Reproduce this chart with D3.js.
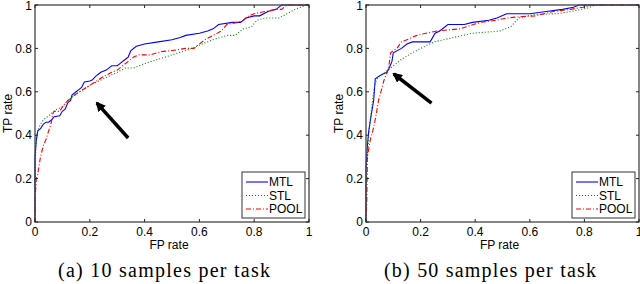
<!DOCTYPE html>
<html>
<head>
<meta charset="utf-8">
<script src="https://cdn.jsdelivr.net/npm/d3@7"></script>
<style>
  html, body { margin: 0; padding: 0; background: #fff; }
  svg { display: block; }
  .tick-label { font-family: "Liberation Sans", Arial, sans-serif; font-size: 12px; fill: #000; }
  .caption { font-family: "Liberation Serif", "Times New Roman", serif; font-size: 20px; fill: #000; }
</style>
</head>
<body>
<svg id="chart" width="640" height="284"></svg>
<script>
// ROC curves: [FP rate, TP rate]
const mtl10 = [[0,0],[0,0.3],[0.005,0.38],[0.01,0.42],[0.02,0.43],[0.03,0.45],[0.04,0.46],[0.05,0.46],[0.06,0.47],[0.07,0.485],[0.09,0.49],[0.1,0.51],[0.11,0.52],[0.12,0.55],[0.13,0.56],[0.135,0.585],[0.15,0.6],[0.16,0.61],[0.17,0.62],[0.18,0.645],[0.2,0.65],[0.21,0.655],[0.22,0.67],[0.24,0.69],[0.26,0.7],[0.27,0.71],[0.28,0.72],[0.3,0.72],[0.31,0.73],[0.33,0.75],[0.34,0.76],[0.35,0.79],[0.37,0.81],[0.4,0.82],[0.45,0.83],[0.5,0.84],[0.53,0.85],[0.55,0.86],[0.6,0.87],[0.63,0.88],[0.65,0.89],[0.67,0.91],[0.72,0.92],[0.75,0.92],[0.77,0.94],[0.8,0.95],[0.82,0.95],[0.85,0.97],[0.88,0.98],[0.9,1],[1,1]];
const stl10 = [[0,0],[0,0.2],[0.003,0.35],[0.01,0.42],[0.02,0.45],[0.03,0.47],[0.05,0.49],[0.08,0.52],[0.1,0.53],[0.12,0.56],[0.15,0.59],[0.2,0.63],[0.25,0.66],[0.3,0.69],[0.33,0.71],[0.36,0.71],[0.4,0.73],[0.45,0.75],[0.5,0.77],[0.55,0.79],[0.6,0.815],[0.65,0.84],[0.7,0.86],[0.73,0.86],[0.76,0.89],[0.79,0.9],[0.81,0.93],[0.84,0.94],[0.89,0.94],[0.92,0.96],[0.95,0.98],[0.99,1],[1,1]];
const pool10 = [[0,0],[0,0.1],[0.005,0.2],[0.01,0.22],[0.02,0.3],[0.03,0.35],[0.04,0.38],[0.05,0.42],[0.06,0.46],[0.065,0.5],[0.07,0.51],[0.09,0.51],[0.1,0.53],[0.12,0.56],[0.15,0.59],[0.2,0.63],[0.25,0.67],[0.28,0.69],[0.3,0.7],[0.32,0.72],[0.34,0.74],[0.36,0.76],[0.38,0.77],[0.42,0.77],[0.46,0.785],[0.5,0.79],[0.55,0.8],[0.58,0.8],[0.6,0.82],[0.62,0.84],[0.65,0.86],[0.68,0.88],[0.7,0.91],[0.74,0.92],[0.76,0.93],[0.78,0.95],[0.8,0.96],[0.84,0.97],[0.88,0.98],[0.9,0.98],[0.92,1],[1,1]];

const mtl50 = [[0,0],[0,0.25],[0.005,0.35],[0.01,0.42],[0.02,0.5],[0.028,0.56],[0.034,0.66],[0.045,0.67],[0.058,0.68],[0.077,0.69],[0.085,0.71],[0.095,0.74],[0.1,0.78],[0.13,0.8],[0.15,0.82],[0.17,0.83],[0.235,0.83],[0.253,0.87],[0.27,0.88],[0.3,0.91],[0.36,0.91],[0.39,0.92],[0.45,0.93],[0.48,0.94],[0.515,0.96],[0.6,0.96],[0.66,0.97],[0.72,0.98],[0.76,0.99],[0.78,1],[1,1]];
const stl50 = [[0,0],[0,0.15],[0.005,0.3],[0.01,0.4],[0.02,0.52],[0.03,0.62],[0.04,0.66],[0.06,0.68],[0.08,0.7],[0.1,0.72],[0.13,0.75],[0.17,0.78],[0.2,0.8],[0.25,0.83],[0.32,0.85],[0.39,0.87],[0.49,0.88],[0.53,0.9],[0.56,0.94],[0.61,0.955],[0.7,0.96],[0.75,0.97],[0.81,0.985],[0.84,1],[1,1]];
const pool50 = [[0,0],[0.003,0.1],[0.005,0.3],[0.016,0.38],[0.025,0.42],[0.035,0.48],[0.046,0.56],[0.058,0.615],[0.065,0.65],[0.077,0.69],[0.085,0.73],[0.09,0.78],[0.113,0.8],[0.13,0.83],[0.15,0.84],[0.186,0.86],[0.22,0.87],[0.26,0.88],[0.3,0.885],[0.344,0.89],[0.393,0.91],[0.42,0.92],[0.478,0.93],[0.515,0.94],[0.563,0.946],[0.62,0.95],[0.685,0.97],[0.75,0.98],[0.795,0.99],[0.83,1],[1,1]];

const ticks = [0, 0.2, 0.4, 0.6, 0.8, 1];
const tickLabels = ["0", "0.2", "0.4", "0.6", "0.8", "1"];
const seriesNames = ["MTL", "STL", "POOL"];
const captions = ["(a) 10 samples per task", "(b) 50 samples per task"];
// arrow [tail, tip] in data units
const arrows = [[[0.34, 0.387], [0.226, 0.548]], [[0.24, 0.548], [0.102, 0.682]]];

const styles = [
  { color: "#0000ff", dash: null },
  { color: "#008000", dash: "1,2" },
  { color: "#ff0000", dash: "5,2,1,2" },
];

const svg = d3.select("#chart");
svg.append("defs").append("marker")
  .attr("id", "head")
  .attr("viewBox", "0 0 10 10")
  .attr("refX", 8).attr("refY", 5)
  .attr("markerWidth", 2.8).attr("markerHeight", 2.8)
  .attr("orient", "auto")
  .append("path").attr("d", "M0,0 L10,5 L0,10 Z").attr("fill", "#000");

const panels = [
  { left: 35, right: 309, series: [mtl10, stl10, pool10], capX: 164 },
  { left: 366, right: 639, series: [mtl50, stl50, pool50], capX: 490 },
];
const plotTop = 5, plotBottom = 222;

panels.forEach((p, i) => {
  const x = d3.scaleLinear().domain([0, 1]).range([p.left, p.right]);
  const y = d3.scaleLinear().domain([0, 1]).range([plotBottom, plotTop]);
  const g = svg.append("g");

  const line = d3.line().x(d => x(d[0])).y(d => y(d[1]));
  p.series.forEach((s, k) => {
    g.append("path")
      .attr("d", line(s))
      .attr("fill", "none")
      .attr("stroke", styles[k].color)
      .attr("stroke-width", 1.1)
      .attr("stroke-dasharray", styles[k].dash);
  });

  // box with inward ticks on all sides
  g.append("rect")
    .attr("x", p.left).attr("y", plotTop)
    .attr("width", p.right - p.left).attr("height", plotBottom - plotTop)
    .attr("fill", "none").attr("stroke", "#444").attr("stroke-width", 1.3);

  ticks.forEach((t, j) => {
    g.append("line").attr("x1", x(t)).attr("x2", x(t)).attr("y1", plotBottom).attr("y2", plotBottom - 3).attr("stroke", "#222");
    g.append("line").attr("x1", x(t)).attr("x2", x(t)).attr("y1", plotTop).attr("y2", plotTop + 3).attr("stroke", "#222");
    g.append("line").attr("y1", y(t)).attr("y2", y(t)).attr("x1", p.left).attr("x2", p.left + 3).attr("stroke", "#222");
    g.append("line").attr("y1", y(t)).attr("y2", y(t)).attr("x1", p.right).attr("x2", p.right - 3).attr("stroke", "#222");
    g.append("text").attr("class", "tick-label")
      .attr("x", x(t)).attr("y", 236).attr("text-anchor", "middle").text(tickLabels[j]);
    g.append("text").attr("class", "tick-label")
      .attr("x", p.left - 3).attr("y", Math.max(y(t), 6)).attr("dy", "0.35em").attr("text-anchor", "end").text(tickLabels[j]);
  });

  g.append("text").attr("class", "tick-label")
    .attr("x", x(0.5) - 3).attr("y", 249).attr("text-anchor", "middle").text("FP rate");
  g.append("text").attr("class", "tick-label")
    .attr("transform", `translate(${p.left - 23},${y(0.5)}) rotate(-90)`)
    .attr("text-anchor", "middle").text("TP rate");

  // arrow annotation
  const a = arrows[i];
  g.append("line")
    .attr("x1", x(a[0][0])).attr("y1", y(a[0][1]))
    .attr("x2", x(a[1][0])).attr("y2", y(a[1][1]))
    .attr("stroke", "#000").attr("stroke-width", 3.5)
    .attr("marker-end", "url(#head)");

  // legend
  const lx = p.right - 67, ly = 172;
  const lg = g.append("g");
  lg.append("rect").attr("x", lx).attr("y", ly).attr("width", 63).attr("height", 46)
    .attr("fill", "#fff").attr("stroke", "#333").attr("stroke-width", 1);
  seriesNames.forEach((n, k) => {
    const yy = ly + 10 + k * 13.5;
    lg.append("line").attr("x1", lx + 4).attr("x2", lx + 26).attr("y1", yy).attr("y2", yy)
      .attr("stroke", styles[k].color).attr("stroke-width", 1.1).attr("stroke-dasharray", styles[k].dash);
    lg.append("text").attr("class", "tick-label").attr("x", lx + 27).attr("y", yy).attr("dy", "0.35em").text(n);
  });

  svg.append("text").attr("class", "caption")
    .attr("x", p.capX).attr("y", 277).attr("text-anchor", "middle")
    .attr("textLength", 212).attr("lengthAdjust", "spacing")
    .text(captions[i]);
});
</script>
</body>
</html>
